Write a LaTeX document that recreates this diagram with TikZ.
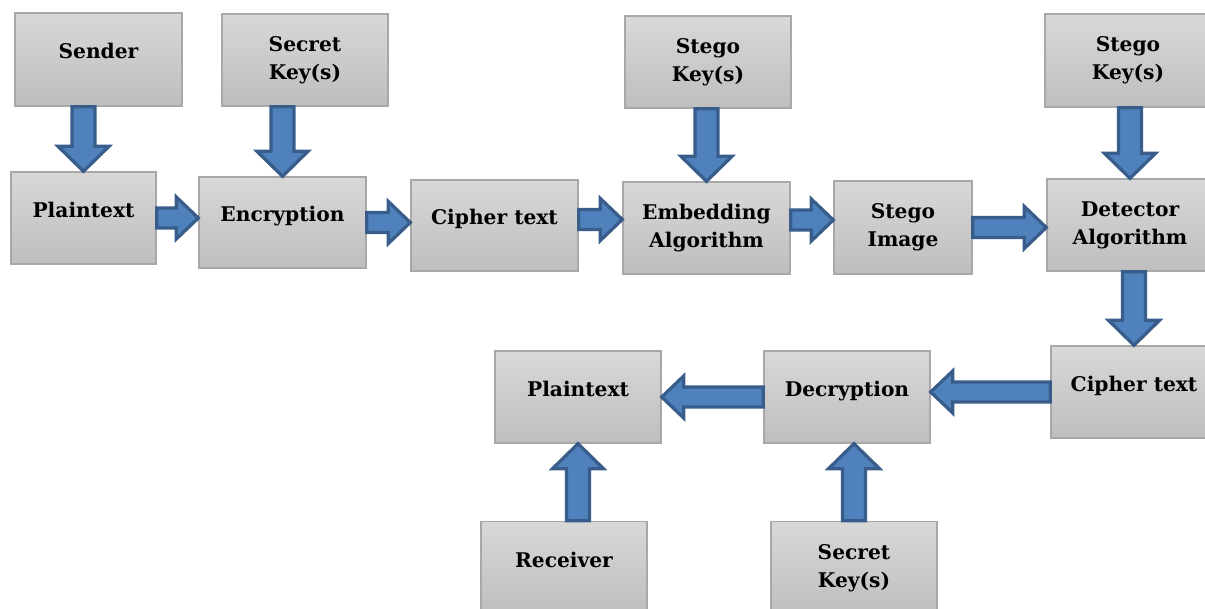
\documentclass[tikz,border=0pt]{standalone}
\usepackage{fontspec}
\setmainfont{DejaVu Serif}
\usepackage{tikz}
\usetikzlibrary{calc}

\definecolor{boxtop}{RGB}{216,216,216}
\definecolor{boxbot}{RGB}{190,190,190}
\definecolor{boxline}{RGB}{168,168,168}
\definecolor{arrfill}{RGB}{79,129,189}
\definecolor{arrline}{RGB}{56,93,138}

\tikzset{
	box/.style={draw=boxline, line width=0.8pt, top color=boxtop, bottom color=boxbot,
		minimum width=3.32cm, minimum height=1.84cm, inner sep=2pt, align=center,
		font=\fontsize{11.5}{16}\selectfont\bfseries},
	oneline/.style={text height=8.5pt, text depth=9.5pt},
	blockarrow/.style n args={3}{fill=arrfill, draw=arrline, line width=0.065cm, to path={
		($(\tikztostart)!#1!90:(\tikztotarget)$)
		-- ($($(\tikztotarget)!#3!(\tikztostart)$)!#1!90:(\tikztotarget)$)
		-- ($($(\tikztotarget)!#3!(\tikztostart)$)!#2!90:(\tikztotarget)$)
		-- (\tikztotarget)
		-- ($($(\tikztotarget)!#3!(\tikztostart)$)!#2!-90:(\tikztotarget)$)
		-- ($($(\tikztotarget)!#3!(\tikztostart)$)!#1!-90:(\tikztotarget)$)
		-- ($(\tikztostart)!#1!-90:(\tikztotarget)$)
		-- cycle}},
	vblk/.style={blockarrow={0.23cm}{0.51cm}{0.5cm}},
	hblk/.style={blockarrow={0.2cm}{0.42cm}{0.44cm}}
}

\begin{document}
\begin{tikzpicture}[x=0.02cm, y=-0.02cm]
		\useasboundingbox (0,0) rectangle (1205,609);
		\clip (0,0) rectangle (1205,609);
		\node[box, oneline, minimum width=3.34cm, minimum height=1.86cm] (sender) at (98.5,59.5) {Sender};
		\node[box] (skeyA) at (305,60) {Secret\\Key(s)};
		\node[box, oneline, minimum width=2.9cm] (plainA) at (83.5,218) {Plaintext};
		\node[box, oneline, minimum width=3.34cm, minimum height=1.82cm] (encrypt) at (282.5,222.5) {Encryption};
		\node[box, oneline, minimum width=3.34cm, minimum height=1.82cm] (cipherA) at (494.5,225.5) {Cipher text};
		\node[box] (stkeyA) at (708,62) {Stego\\Key(s)};
		\node[box, minimum width=3.34cm] (embed) at (706.5,228) {Embedding\\Algorithm};
		\node[box, minimum width=2.76cm, minimum height=1.86cm] (image) at (903,227.5) {Stego\\Image};
		\node[box, minimum height=1.86cm] (stkeyB) at (1128,60.5) {Stego\\Key(s)};
		\node[box] (detect) at (1130,225) {Detector\\Algorithm};
		\node[box, oneline] (cipherB) at (1134,392) {Cipher text};
		\node[box, oneline] (decrypt) at (847,397) {Decryption};
		\node[box, oneline] (plainB) at (578,397) {Plaintext};
		\node[box, oneline, minimum height=1.86cm] (receiver) at (564,568) {Receiver};
		\node[box, minimum height=1.86cm] (skeyB) at (854,568) {Secret\\Key(s)};
		\draw[vblk] (plainA.north |- sender.south) to (plainA.north);
		\draw[vblk] (encrypt.north |- skeyA.south) to (encrypt.north);
		\draw[vblk] (embed.north |- stkeyA.south) to (embed.north);
		\draw[vblk] (detect.north |- stkeyB.south) to (detect.north);
		\draw[vblk] (cipherB.north |- detect.south) to (cipherB.north);
		\draw[hblk] (plainA.east) to (encrypt.west |- plainA.east);
		\draw[hblk] (encrypt.east) to (cipherA.west |- encrypt.east);
		\draw[hblk] ($(cipherA.east)+(0,-6)$) to ($(embed.west |- cipherA.east)+(0,-6)$);
		\draw[hblk] ($(embed.east)+(0,-8)$) to ($(image.west |- embed.east)+(0,-8)$);
		\draw[hblk] (image.east) to (detect.west |- image.east);
		\draw[hblk] (cipherB.west) to (decrypt.east |- cipherB.west);
		\draw[hblk] (decrypt.west) to (plainB.east |- decrypt.west);
		\draw[vblk] (plainB.south |- receiver.north) to (plainB.south);
		\draw[vblk] (skeyB.north) to (decrypt.south -| skeyB.north);
	\end{tikzpicture}
\end{document}
